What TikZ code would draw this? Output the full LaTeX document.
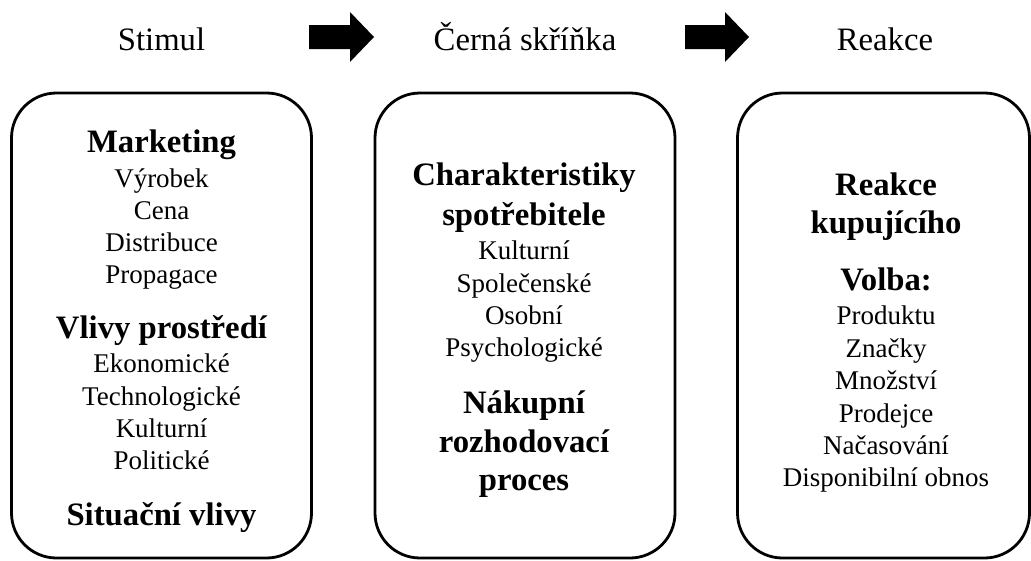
\documentclass[tikz,border=0pt]{standalone}
\usepackage{fontspec}
\setmainfont{Liberation Serif}
\usepackage{tikz}
\tikzset{box node/.style={draw,line width=2.8pt,rounded corners=45pt,minimum width=300pt,minimum height=465pt,inner sep=0pt},
            title node/.style={anchor=base,font=\fontsize{32.7}{38}\selectfont},
            head node/.style={anchor=base,font=\fontsize{32.7}{38}\selectfont\bfseries},
            item node/.style={anchor=base,font=\fontsize{27}{32}\selectfont},
            }

\begin{document}
\begin{tikzpicture}[x=1pt,y=-1pt]
				\useasboundingbox (0,0) rectangle (1031,560);
				% titles and arrows
				\node[title node] (stimul) at (161.5,50) {Stimul};
				\node[title node] (skrinka) at (525,50) {Černá skříňka};
				\node[title node] (reakce) at (885,50) {Reakce};
				\fill (309,25) -- (350,25) -- (350,12) -- (374,37) -- (350,62) -- (350,49) -- (309,49) -- cycle;
				\fill (685,25) -- (725,25) -- (725,12) -- (749,37) -- (725,62) -- (725,49) -- (685,49) -- cycle;
				
				% boxes
				\node[box node] (A) at (161.5,325.5) {};
				\node[box node] (B) at (525,325.5) {};
				\node[box node,minimum width=292pt] (C) at (883.5,325.5) {};
				
				% stimul
				\node[head node] (mkt) at (161.5,152) {Marketing};
				\foreach \txt [count=\i] in {Výrobek,Cena,Distribuce,Propagace}
					\node[item node] (mkt\i) at (161.5,{155+32*\i}) {\txt};
				\node[head node] (env) at (161.5,338) {Vlivy prostředí};
				\foreach \txt [count=\i] in {Ekonomické,Technologické,Kulturní,Politické}
					\node[item node] (env\i) at (161.5,{340.5+32.3*\i}) {\txt};
				\node[head node] (sit) at (161.5,525) {Situační vlivy};
				
				% cerna skrinka
				\node[head node] (char1) at (524,185) {Charakteristiky};
				\node[head node] (char2) at (524,225) {spotřebitele};
				\foreach \txt [count=\i] in {Kulturní,Společenské,Osobní,Psychologické}
					\node[item node] (char\i x) at (524,{227.5+32.3*\i}) {\txt};
				\node[head node] (proc1) at (524,413) {Nákupní};
				\node[head node] (proc2) at (524,452) {rozhodovací};
				\node[head node] (proc3) at (524,490) {proces};
				
				% reakce
				\node[head node] (kup1) at (886,195) {Reakce};
				\node[head node] (kup2) at (886,233) {kupujícího};
				\node[head node] (volba) at (886,290) {Volba:};
				\foreach \txt [count=\i] in {Produktu,Značky,Množství,Prodejce,Načasování,Disponibilní obnos}
					\node[item node] (volba\i) at (886,{292.5+32.4*\i}) {\txt};
			\end{tikzpicture}
\end{document}
